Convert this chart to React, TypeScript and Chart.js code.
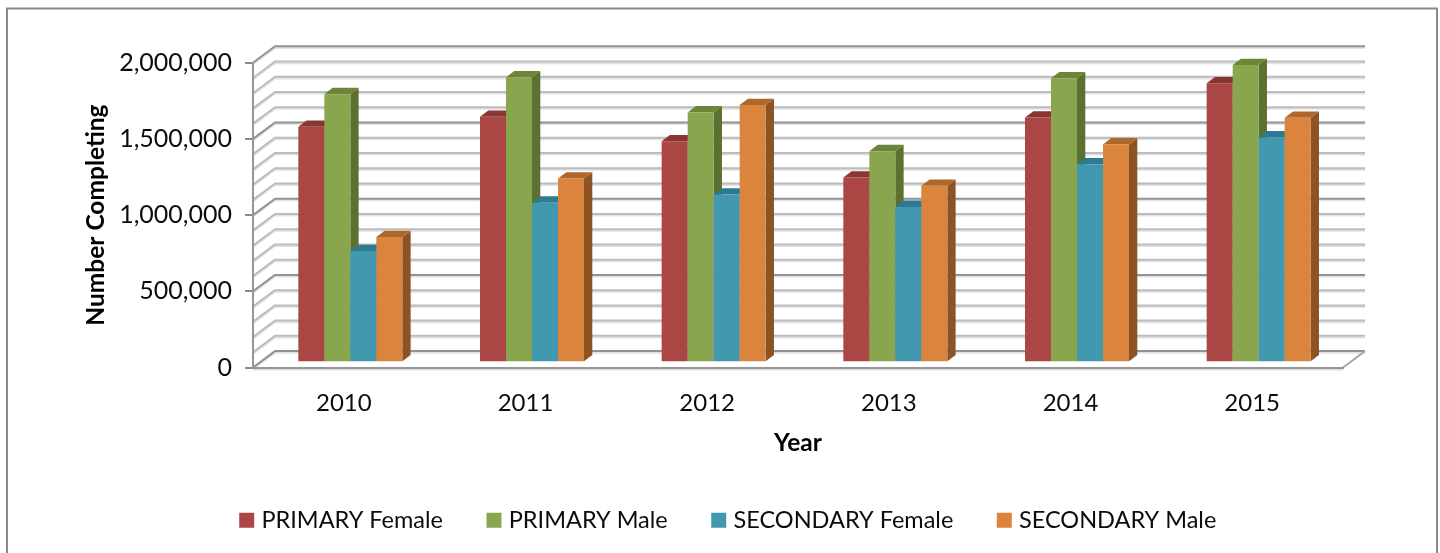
import React, { useEffect, useRef } from "react";
import { Chart, registerables } from "chart.js";

Chart.register(...registerables);

const years = ["2010", "2011", "2012", "2013", "2014", "2015"];
const primaryFemale = [1544500, 1610000, 1450000, 1212000, 1606000, 1830000];
const primaryMale = [1759000, 1869000, 1639000, 1385000, 1863000, 1950000];
const secondaryFemale = [729500, 1047000, 1100000, 1019000, 1299000, 1475000];
const secondaryMale = [821500, 1205000, 1687000, 1157000, 1429000, 1604000];

const seriesNames = ["PRIMARY Female", "PRIMARY Male", "SECONDARY Female", "SECONDARY Male"];
const seriesValues = [primaryFemale, primaryMale, secondaryFemale, secondaryMale];
const frontColors = ["#AA4643", "#89A54E", "#4198AF", "#DB843D"];
const topColors = ["#893633", "#6C8538", "#2E7A90", "#AE682C"];
const sideColors = ["#7A2F2D", "#5C7030", "#256577", "#8C5425"];

const FONT = "Lato, Carlito, Calibri, sans-serif";
const TEXT = "#0c0c0c";
const WALL = { dx: 22, dy: -16.4 };
const BAR_SHIFT = { dx: 6.5, dy: -5.3 };
const BAR_DEPTH = { dx: 8.3, dy: -6.3 };
const MINOR_STEP = 100000;

const walls3d = {
  id: "walls3d",
  beforeDraw(chart: any) {
    const { ctx, chartArea: a } = chart;
    const yScale = chart.scales.y;
    ctx.save();
    ctx.strokeStyle = "#8a8a8a";
    ctx.lineWidth = 2;
    ctx.beginPath();
    ctx.moveTo(7, 1000);
    ctx.lineTo(7, 8.5);
    ctx.lineTo(1437, 8.5);
    ctx.lineTo(1437, 1000);
    ctx.stroke();

    const lineAt = (y: number, major: boolean) => {
      const pts = [
        [a.left, y],
        [a.left + WALL.dx, y + WALL.dy],
        [a.right + WALL.dx, y + WALL.dy],
      ];
      const path = (off: number) => {
        ctx.beginPath();
        ctx.moveTo(pts[0][0], pts[0][1] + off);
        ctx.lineTo(pts[1][0], pts[1][1] + off);
        ctx.lineTo(pts[2][0], pts[2][1] + off);
        ctx.stroke();
      };
      ctx.lineJoin = "round";
      ctx.strokeStyle = "#e2e2e2";
      ctx.lineWidth = 2;
      path(1.6);
      ctx.strokeStyle = major ? "#929292" : "#bcbcbc";
      ctx.lineWidth = 2;
      path(0);
    };
    for (let v = 0; v <= yScale.max; v += MINOR_STEP) {
      lineAt(yScale.getPixelForValue(v), v % 500000 === 0);
    }
    ctx.strokeStyle = "#a8a8a8";
    ctx.lineWidth = 2;
    ctx.beginPath();
    ctx.moveTo(a.right, a.bottom);
    ctx.lineTo(a.right + WALL.dx, a.bottom + WALL.dy);
    ctx.stroke();
    ctx.strokeStyle = "#dcdcdc";
    ctx.beginPath();
    ctx.moveTo(a.left, a.bottom + 2);
    ctx.lineTo(a.right, a.bottom + 2);
    ctx.stroke();
    ctx.restore();
  },
};

// Paints series left to right so each bar's front covers its neighbour's side face.
const bars3d = {
  id: "bars3d",
  beforeDatasetsDraw(chart: any) {
    const { ctx } = chart;
    const metas = [...chart.getSortedVisibleDatasetMetas()].sort((p: any, q: any) => p.index - q.index);
    ctx.save();
    ctx.translate(BAR_SHIFT.dx, BAR_SHIFT.dy);
    for (const meta of metas) {
      const idx = meta.index;
      for (const el of meta.data) {
        const { x, y, base, width } = el.getProps(["x", "y", "base", "width"], true);
        const l = x - width / 2;
        const r = x + width / 2;
        ctx.fillStyle = sideColors[idx];
        ctx.beginPath();
        ctx.moveTo(r, y);
        ctx.lineTo(r + BAR_DEPTH.dx, y + BAR_DEPTH.dy);
        ctx.lineTo(r + BAR_DEPTH.dx, base + BAR_DEPTH.dy);
        ctx.lineTo(r, base);
        ctx.closePath();
        ctx.fill();
        ctx.fillStyle = topColors[idx];
        ctx.beginPath();
        ctx.moveTo(l, y);
        ctx.lineTo(l + BAR_DEPTH.dx, y + BAR_DEPTH.dy);
        ctx.lineTo(r + BAR_DEPTH.dx, y + BAR_DEPTH.dy);
        ctx.lineTo(r, y);
        ctx.closePath();
        ctx.fill();
      }
      meta.controller.draw();
    }
    ctx.restore();
    return false;
  },
};

export default function App() {
  const ref = useRef<HTMLCanvasElement | null>(null);

  useEffect(() => {
    document.body.style.margin = "0";
    document.body.style.overflow = "hidden";
    const chart = new Chart(ref.current as HTMLCanvasElement, {
      type: "bar",
      plugins: [walls3d, bars3d],
      data: {
        labels: years,
        datasets: seriesNames.map((name, i) => ({
          label: name,
          data: seriesValues[i],
          backgroundColor: frontColors[i],
          categoryPercentage: 0.5725,
          barPercentage: 1,
          clip: false,
        })),
      },
      options: {
        responsive: false,
        animation: false,
        devicePixelRatio: 1,
        layout: { padding: { left: 117, right: 97, top: 62.7, bottom: 33 } },
        plugins: {
          tooltip: { enabled: false },
          legend: {
            position: "bottom",
            labels: {
              boxWidth: 6,
              boxHeight: 6,
              padding: 48,
              color: TEXT,
              font: { family: FONT, size: 23.5 },
              generateLabels(c: any) {
                return Chart.defaults.plugins.legend.labels.generateLabels(c).map((item: any) => ({
                  ...item,
                  strokeStyle: item.fillStyle,
                  lineWidth: 9,
                  lineJoin: "miter",
                }));
              },
            },
          },
        },
        scales: {
          x: {
            afterFit(s: any) {
              s.height = 93;
            },
            grid: { display: false },
            border: { display: true, color: "#969696", width: 2 },
            ticks: { color: TEXT, padding: 13, font: { family: FONT, size: 24 } },
            title: {
              display: true,
              text: "Year",
              color: "#000",
              padding: { top: 0, bottom: 3 },
              font: { family: FONT, size: 24.5, weight: "bold" },
            },
          },
          y: {
            min: 0,
            max: 2000000,
            afterFit(s: any) {
              s.width = 136;
            },
            grid: { drawOnChartArea: false, drawTicks: true, tickLength: 8, color: "#8a8a8a", lineWidth: 2 },
            border: { display: true, color: "#969696", width: 2 },
            ticks: {
              stepSize: 500000,
              color: TEXT,
              padding: 13,
              font: { family: FONT, size: 25 },
              callback: (v: any) => Number(v).toLocaleString("en-US"),
            },
            title: {
              display: true,
              text: "Number Completing",
              color: "#000",
              padding: { top: -36, bottom: 0 },
              font: { family: FONT, size: 24.5, weight: "bold" },
            },
          },
        },
      },
    } as any);
    return () => chart.destroy();
  }, []);

  return (
    <div style={{ position: "fixed", left: 0, top: 0, width: 1440, height: 553, overflow: "hidden", background: "#fff" }}>
      <canvas ref={ref} width={1440} height={575} style={{ display: "block", filter: "blur(0.5px)" }} />
    </div>
  );
}
